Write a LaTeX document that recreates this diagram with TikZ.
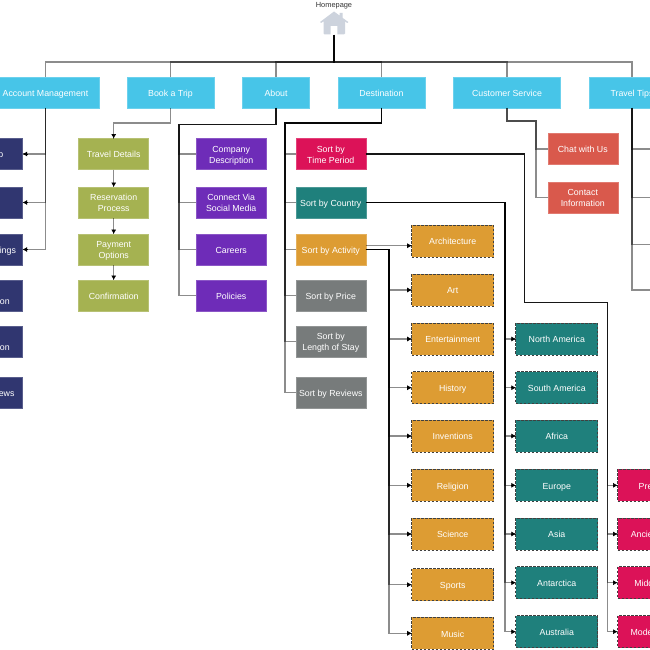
\documentclass[tikz,border=0pt]{standalone}
\usepackage{fontspec}
\setmainfont{Liberation Sans}
\usetikzlibrary{arrows.meta}
\definecolor{ccyan}{HTML}{47C5E8}
\definecolor{cgreen}{HTML}{A5B251}
\definecolor{cpurple}{HTML}{6E2CB8}
\definecolor{cnavy}{HTML}{303670}
\definecolor{cpink}{HTML}{DC1258}
\definecolor{cteal}{HTML}{1F807C}
\definecolor{corange}{HTML}{DD9C33}
\definecolor{cgrey}{HTML}{777B7B}
\definecolor{cred}{HTML}{D9594C}
\definecolor{chouse}{HTML}{CDD3DD}
\tikzset{
  wh/.style 2 args={minimum width=#1pt,minimum height=#2pt},
  boxbase/.style={rectangle,inner sep=0pt,outer sep=0pt,align=center,text=white,
    font=\fontsize{8.8}{10.7}\selectfont,line width=0.6pt,text height=7.6pt,text depth=0pt},
  two/.style={text height=18pt,text depth=0pt},
  solidbox/.style={boxbase,fill=#1,draw=#1!80!white},
  dashbox/.style={boxbase,fill=#1,draw=black!75,line width=1pt,dash pattern=on 2.5pt off 1.5pt},
  topbox/.style={solidbox=ccyan},
  greenbox/.style={solidbox=cgreen,wh={70}{31}},
  purplebox/.style={solidbox=cpurple,wh={70}{31}},
  navybox/.style={solidbox=cnavy,wh={70}{31}},
  redbox/.style={solidbox=cred,wh={70}{31}},
  orangebox/.style={dashbox=corange,wh={82}{32}},
  tealbox/.style={dashbox=cteal,wh={82}{32}},
  pinkbox/.style={dashbox=cpink,wh={82}{32}},
  conn/.style={draw=black,draw opacity=.45,line width=1.05pt},
  tipline/.style={draw=black,line width=.6pt,-{Latex[length=4.5pt,width=5pt]}},
}
\newcommand{\tipin}[1]{\draw[tipline] ([xshift=-4.5pt]#1.west) -- (#1.west);}
\newcommand{\tipleft}[1]{\draw[tipline] ([xshift=4.5pt]#1.east) -- (#1.east);}
\newcommand{\tipdown}[1]{\draw[tipline] ([yshift=4.5pt]#1.north) -- (#1.north);}
\begin{document}
\begin{tikzpicture}[x=1pt,y=-1pt]
\path[use as bounding box,clip] (0,0) rectangle (650,650);
\fill[white] (0,0) rectangle (650,650);

% homepage
\node[inner sep=0pt,font=\fontsize{7.4}{9}\selectfont,text=black!80] (hometext) at (334,5.6) {Homepage};
\node[inner sep=0pt,outer sep=0pt,wh={28}{24}] (home) at (334,23) {};
\fill[chouse] (334,11.5) -- (339.5,15.5) -- (339.5,13) -- (342.5,13) -- (342.5,17.8) -- (348.3,22) -- (347.3,23)
  -- (345,21.4) -- (345,33.5) -- (344,34.4) -- (337.4,34.4) -- (337.4,26) -- (330.7,26) -- (330.7,34.4) -- (324.5,34.4) -- (323.5,33.5)
  -- (323.5,21.4) -- (321,23) -- (320,22) -- cycle;

% top row
\node[topbox,wh={107}{31}] (acct) at (45.5,92.5) {Account Management};
\node[topbox,wh={87}{31}] (book) at (170.5,92.5) {Book a Trip};
\node[topbox,wh={67}{31}] (about) at (276,92.5) {About};
\node[topbox,wh={87}{31}] (dest) at (381.5,92.5) {Destination};
\node[topbox,wh={106.5}{31}] (cust) at (507,92.5) {Customer Service};
\node[topbox,wh={86}{31}] (tips) at (632,92.5) {Travel Tips};

% account children
\node[navybox] (a1) at (-12.3,154) {Sign Up};
\node[navybox] (a2) at (-12.3,202.5) {Log In};
\node[navybox] (a3) at (-12.3,249.5) {Your Bookings};
\node[navybox,two] (a4) at (-12.3,295.5) {Billing\\Information};
\node[navybox,two] (a5) at (-12.3,341.5) {Travel\\Information};
\node[navybox] (a6) at (-12.3,392.5) {Your Reviews};

% book a trip children
\node[greenbox] (b1) at (113.7,154) {Travel Details};
\node[greenbox,two] (b2) at (113.7,202.5) {Reservation\\Process};
\node[greenbox,two] (b3) at (113.7,249.5) {Payment\\Options};
\node[greenbox] (b4) at (113.7,295.5) {Confirmation};

% about children
\node[purplebox,two] (c1) at (231.2,154) {Company\\Description};
\node[purplebox,two] (c2) at (231.2,202.5) {Connect Via\\Social Media};
\node[purplebox] (c3) at (231.2,249.5) {Careers};
\node[purplebox] (c4) at (231.2,295.5) {Policies};

% destination children
\node[solidbox=cpink,wh={70}{31},two] (d1) at (330.8,154) {Sort by\\Time Period};
\node[solidbox=cteal,wh={70}{31}] (d2) at (330.8,202.5) {Sort by Country};
\node[solidbox=corange,wh={70}{31}] (d3) at (330.8,249.5) {Sort by Activity};
\node[solidbox=cgrey,wh={70}{31}] (d4) at (330.8,295.5) {Sort by Price};
\node[solidbox=cgrey,wh={70}{31},two] (d5) at (330.8,341.5) {Sort by\\Length of Stay};
\node[solidbox=cgrey,wh={70}{31}] (d6) at (330.8,392.5) {Sort by Reviews};

% customer service children
\node[redbox] (e1) at (582.8,149) {Chat with Us};
\node[redbox,two] (e2) at (582.8,197.5) {Contact\\Information};

% travel tips free ends
\coordinate (t1) at (660,149);
\coordinate (t2) at (660,197.5);
\coordinate (t3) at (660,244.5);
\coordinate (t4) at (660,290);

% activities
\node[orangebox] (o1) at (452.7,241) {Architecture};
\node[orangebox] (o2) at (452.7,290) {Art};
\node[orangebox] (o3) at (452.7,339) {Entertainment};
\node[orangebox] (o4) at (452.7,387.7) {History};
\node[orangebox] (o5) at (452.7,436) {Inventions};
\node[orangebox] (o6) at (452.7,485.3) {Religion};
\node[orangebox] (o7) at (452.7,534) {Science};
\node[orangebox] (o8) at (452.7,584.7) {Sports};
\node[orangebox] (o9) at (452.7,633.3) {Music};

% countries
\node[tealbox] (k1) at (556.8,339) {North America};
\node[tealbox] (k2) at (556.8,387.7) {South America};
\node[tealbox] (k3) at (556.8,436) {Africa};
\node[tealbox] (k4) at (556.8,485.3) {Europe};
\node[tealbox] (k5) at (556.8,534) {Asia};
\node[tealbox] (k6) at (556.8,582.7) {Antarctica};
\node[tealbox] (k7) at (556.8,631.7) {Australia};

% time periods
\node[pinkbox] (p1) at (658.5,485.3) {Prehistory};
\node[pinkbox] (p2) at (658.5,534) {Ancient Times};
\node[pinkbox] (p3) at (658.5,582.7) {Middle Ages};
\node[pinkbox] (p4) at (658.5,631.7) {Modern Times};

% root connectors
\foreach \n in {acct,book,about,dest,cust,tips}
  \draw[conn] (home.south) -- (334,62) -| (\n.north);

% account
\foreach \n in {a1,a2,a3}{
  \draw[conn] (acct.south) |- (\n.east);
  \tipleft{\n}
}
% book a trip
\draw[conn] (book.south) |- (113.7,123) -- (b1.north);
\tipdown{b1}
\draw[conn] (b1.south) -- (b2.north); \tipdown{b2}
\draw[conn] (b2.south) -- (b3.north); \tipdown{b3}
\draw[conn] (b3.south) -- (b4.north); \tipdown{b4}
% about
\foreach \n in {c1,c2,c3,c4}
  \draw[conn] (about.south) |- (179,124.5) |- (\n.west);
% destination
\foreach \n in {d1,d2,d3,d4,d5,d6}
  \draw[conn] (dest.south) |- (285,123) |- (\n.west);
% customer
\foreach \n in {e1,e2}
  \draw[conn] (cust.south) |- (536,121) |- (\n.west);
% tips
\foreach \n in {t1,t2,t3,t4}
  \draw[conn] (tips.south) |- (\n);
% time period
\foreach \n in {p1,p2,p3,p4}{
  \draw[conn] (d1.east) -| (524.5,302.5) -| (607.7,400) |- (\n.west);
  \tipin{\n}
}
% country
\foreach \n in {k1,k2,k3,k4,k5,k6,k7}{
  \draw[conn] (d2.east) -| (505,300) |- (\n.west);
  \tipin{\n}
}
% activity
\coordinate (archin) at ([yshift=-4.7pt]o1.west);
\draw[conn] (d3.east |- archin) -- (archin);
\draw[tipline] ([xshift=-4.5pt]archin) -- (archin);
\foreach \n in {o2,o3,o4,o5,o6,o7,o8,o9}{
  \draw[conn] (d3.east) -| (389,300) |- (\n.west);
  \tipin{\n}
}
\end{tikzpicture}
\end{document}
